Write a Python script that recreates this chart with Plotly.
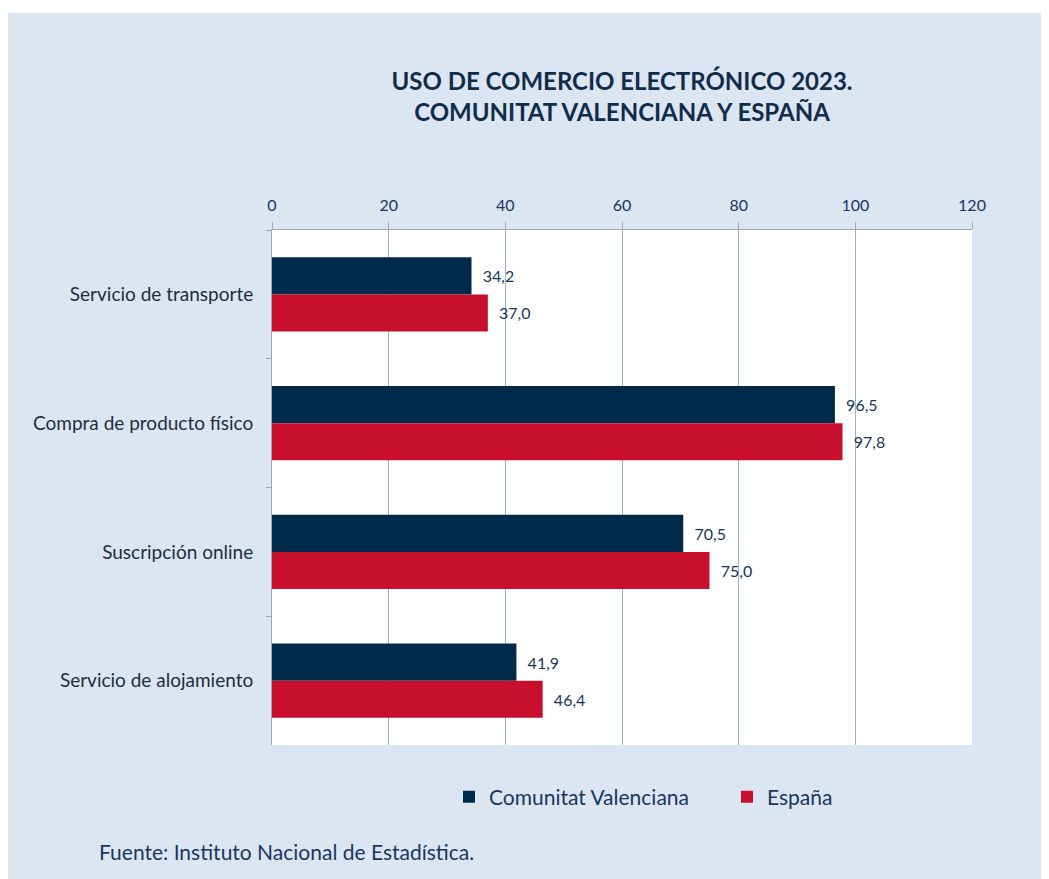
import plotly.graph_objects as go

categorias = ["Servicio de transporte", "Compra de producto físico",
              "Suscripción online", "Servicio de alojamiento"]
cv = [34.2, 96.5, 70.5, 41.9]
espana = [37.0, 97.8, 75.0, 46.4]
x_ticks = [0, 20, 40, 60, 80, 100, 120]

NAVY = "#002A4A"
RED = "#C8102E"
TXT = "#17375E"
BG = "#DCE6F2"
FONT = "Lato"

fig = go.Figure()
fig.add_trace(go.Bar(y=categorias, x=cv, orientation="h", name="Comunitat Valenciana",
                     marker=dict(color=NAVY, line=dict(width=0)),
                     texttemplate="  %{x:.1f}", textposition="outside",
                     textfont=dict(size=16, color=TXT), cliponaxis=False))
fig.add_trace(go.Bar(y=categorias, x=espana, orientation="h", name="España",
                     marker=dict(color=RED, line=dict(width=0)),
                     texttemplate="  %{x:.1f}", textposition="outside",
                     textfont=dict(size=16, color=TXT), cliponaxis=False))

fig.update_layout(
    width=1049, height=879,
    separators=",.",
    barmode="group", bargap=0.425, bargroupgap=0,
    paper_bgcolor=BG, plot_bgcolor="white",
    font=dict(family=FONT, color=TXT, size=16),
    margin=dict(l=264, r=85, t=222, b=142),
    title=dict(text="<b>USO DE COMERCIO ELECTRÓNICO 2023.<br>COMUNITAT VALENCIANA Y ESPAÑA</b>",
               x=0.5, xref="paper", y=0.907, yref="container", xanchor="center", yanchor="top",
               font=dict(size=24, color="#0F2D4A", family=FONT)),
    xaxis=dict(side="top", range=[0, 120], tickvals=x_ticks, showgrid=True,
               gridcolor="#95B3D7", gridwidth=1, zeroline=False,
               showline=True, linecolor="#A6A6A6", ticks="outside", ticklen=7,
               tickcolor="#A6A6A6", tickfont=dict(size=16, color=TXT),
               ticklabelstandoff=5),
    yaxis=dict(autorange="reversed", showline=True, linecolor="#A6A6A6",
               ticks="outside", ticklen=5, tickcolor="#A6A6A6", tickson="boundaries",
               tickfont=dict(size=19, color="#1F2D3D"), ticklabelstandoff=14),
    legend=dict(orientation="h", x=0.65, xanchor="center", y=-0.101, yanchor="middle",
                font=dict(size=21, color=TXT), bgcolor="rgba(0,0,0,0)",
                itemwidth=30, entrywidth=233, traceorder="normal"),
    shapes=[
        dict(type="rect", xref="paper", yref="paper", x0=-0.40, x1=1.15, y0=1.4214, y1=1.45,
             fillcolor="white", line=dict(width=0), layer="below"),
    ],
    annotations=[dict(text="Fuente: Instituto Nacional de Estadística.", xref="paper", yref="paper",
                      x=-0.25, y=-0.206, xanchor="left", yanchor="middle", showarrow=False,
                      font=dict(size=21, color=TXT))],
)

fig.write_html("out.html")
